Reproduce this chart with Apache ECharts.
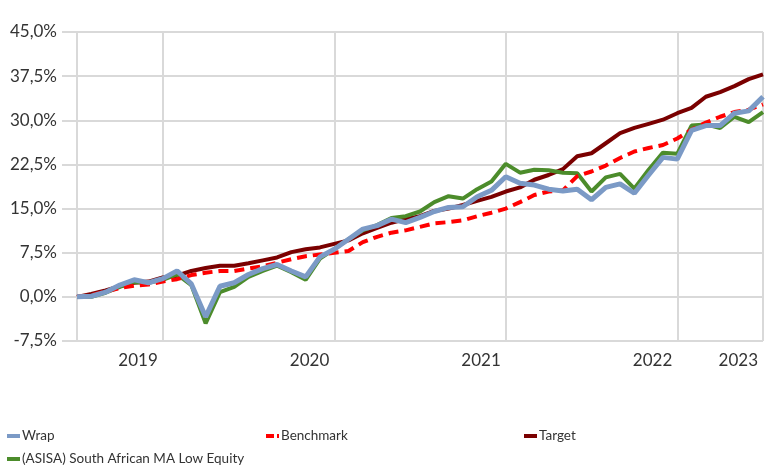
<!DOCTYPE html>
<html>
<head>
<meta charset="utf-8">
<script src="https://cdn.jsdelivr.net/npm/echarts@6/dist/echarts.min.js"></script>
<style>html,body{margin:0;padding:0;background:#fff}#c{width:772px;height:468px}</style>
</head>
<body>
<div id="c"></div>
<script>
var categories = ['2019-01','2019-02','2019-03','2019-04','2019-05','2019-06','2019-07','2019-08','2019-09','2019-10','2019-11','2019-12',
'2020-01','2020-02','2020-03','2020-04','2020-05','2020-06','2020-07','2020-08','2020-09','2020-10','2020-11','2020-12',
'2021-01','2021-02','2021-03','2021-04','2021-05','2021-06','2021-07','2021-08','2021-09','2021-10','2021-11','2021-12',
'2022-01','2022-02','2022-03','2022-04','2022-05','2022-06','2022-07','2022-08','2022-09','2022-10','2022-11','2022-12','2023-01'];
var tickIndex = [6, 18, 30, 42, 48];
var tickLabels = ['2019', '2020', '2021', '2022', '2023'];
var wrap = [0,0.1,0.8,2.0,2.9,2.4,3.1,4.4,2.2,-3.4,1.8,2.4,3.8,4.8,5.5,4.4,3.4,6.8,8.1,9.8,11.5,12.1,13.2,12.6,13.5,14.5,15.2,15.3,17.0,18.1,20.4,19.3,19.0,18.3,18.0,18.3,16.5,18.6,19.2,17.6,20.7,23.7,23.4,28.3,29.1,29.1,31.2,31.6,34.0];
var benchmark = [0,0.3,0.9,1.5,1.9,2.1,2.6,3.0,3.7,4.1,4.4,4.4,4.8,5.2,5.8,6.4,6.9,7.2,7.5,7.8,9.3,10.2,10.9,11.3,11.9,12.5,12.7,13.0,13.7,14.3,15.0,16.1,17.3,17.9,18.1,20.5,21.3,22.3,23.6,24.7,25.3,25.8,26.9,28.4,29.6,30.6,31.4,31.8,32.7];
var target = [0,0.5,1.1,1.8,2.4,2.6,3.3,3.6,4.4,4.9,5.3,5.3,5.7,6.2,6.7,7.6,8.1,8.4,9.0,9.6,10.8,11.7,12.6,13.2,13.7,14.6,15.0,15.6,16.3,17.0,17.9,18.6,19.9,20.7,21.7,23.9,24.4,26.1,27.8,28.7,29.4,30.1,31.2,32.1,34.0,34.8,35.8,37.0,37.8];
var asisa = [0,0.0,0.7,1.7,2.5,2.4,2.9,3.8,2.0,-4.5,0.8,1.7,3.4,4.4,5.3,4.2,2.9,6.5,8.1,9.8,11.3,12.2,13.4,13.7,14.5,16.1,17.1,16.7,18.3,19.6,22.6,21.1,21.6,21.5,21.1,21.0,17.9,20.3,20.9,18.4,21.6,24.5,24.3,29.1,29.3,28.7,30.6,29.7,31.4];

var FONT = 'Lato, "Open Sans", sans-serif';
var GRID = '#d9d9d9';
var chart = echarts.init(document.getElementById('c'), null, {renderer: 'canvas'});
function showTick(i) { return tickIndex.indexOf(i) >= 0 || i === 0; }
function legendAt(name, left, top, icon) {
  return {
    data: [name], left: left, top: top, orient: 'horizontal',
    icon: icon || 'rect', itemWidth: 13, itemHeight: 4, itemGap: 0, padding: 0,
    textStyle: {fontFamily: FONT, fontSize: 13.5, color: '#333', padding: [0, 0, 0, -3]},
    selectedMode: false
  };
}
chart.setOption({
  animation: false,
  backgroundColor: '#fff',
  grid: {left: 77, right: 9, top: 32, bottom: 127, containLabel: false},
  legend: [
    legendAt('Wrap', 7, 429),
    legendAt('Benchmark', 266, 429, 'path://M0,0H8V4H0Z M11,0H13V4H11Z'),
    legendAt('Target', 524, 429),
    legendAt('(ASISA) South African MA Low Equity', 7, 452)
  ],
  xAxis: {
    type: 'category', data: categories, boundaryGap: false,
    axisLine: {show: true, lineStyle: {color: GRID, width: 2}},
    axisTick: {show: true, length: 13, interval: function (i) { return showTick(i); }, lineStyle: {color: GRID, width: 2}},
    splitLine: {show: true, interval: function (i) { return showTick(i); }, lineStyle: {color: GRID, width: 2}},
    axisLabel: {
      interval: function (i) { return tickIndex.indexOf(i) >= 0; },
      formatter: function (v, i) { var k = tickIndex.indexOf(i); return k >= 0 ? tickLabels[k] : ''; },
      align: 'right', padding: [0, 5, 0, 0], margin: 11,
      fontFamily: FONT, fontSize: 17, color: '#333'
    }
  },
  yAxis: {
    type: 'value', min: -7.5, max: 45, interval: 7.5,
    axisLine: {show: true, lineStyle: {color: GRID, width: 2}},
    axisTick: {show: true, length: 15, lineStyle: {color: GRID, width: 2}},
    splitLine: {show: true, lineStyle: {color: GRID, width: 2}},
    axisLabel: {
      margin: 20, fontFamily: FONT, fontSize: 17, color: '#333',
      formatter: function (v) { return v.toFixed(1).replace('.', ',') + '%'; }
    }
  },
  series: [
    {name: 'Target', type: 'line', data: target, symbol: 'none', z: 2,
     lineStyle: {color: '#7a0000', width: 4}, itemStyle: {color: '#7a0000'}},
    {name: '(ASISA) South African MA Low Equity', type: 'line', data: asisa, symbol: 'none', z: 3,
     lineStyle: {color: '#4c8c2b', width: 4}, itemStyle: {color: '#4c8c2b'}},
    {name: 'Benchmark', type: 'line', data: benchmark, symbol: 'none', z: 4,
     lineStyle: {color: '#ff0000', width: 4, type: [10, 6]}, itemStyle: {color: '#ff0000'}},
    {name: 'Wrap', type: 'line', data: wrap, symbol: 'none', z: 5,
     lineStyle: {color: '#7b9ac6', width: 5}, itemStyle: {color: '#7b9ac6'}}
  ]
});
</script>
</body>
</html>
